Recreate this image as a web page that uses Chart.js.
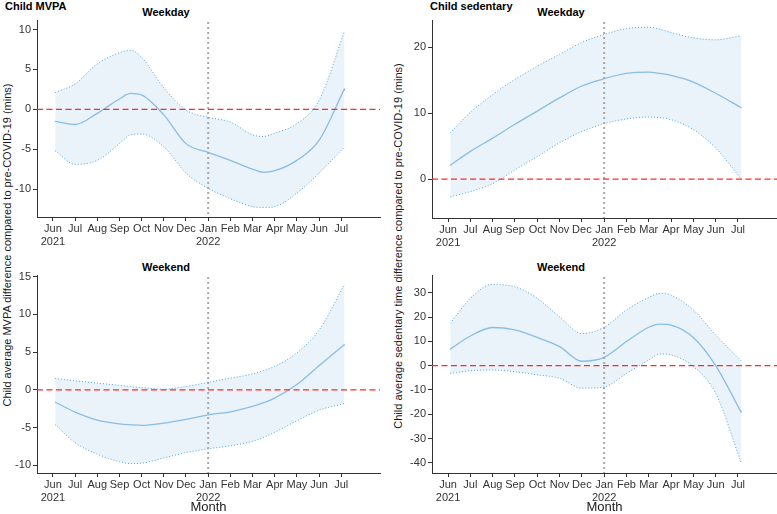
<!DOCTYPE html>
<html>
<head>
<meta charset="utf-8">
<script src="https://cdn.jsdelivr.net/npm/chart.js@4"></script>
<style>
  body { margin: 0; background: #fff; width: 777px; height: 514px; position: relative; overflow: hidden;
         font-family: "Liberation Sans", Arial, sans-serif; }
  .panel { position: absolute; }
  .lbl { position: absolute; white-space: nowrap; color: #000; line-height: 1; }
  .bold { font-weight: bold; font-size: 11px; }
  .sub { transform: translateX(-50%); }
  .ytitle { font-size: 11px; color: #1a1a1a; transform: translate(-50%, -50%) rotate(-90deg); }
</style>
</head>
<body>
<div class="lbl bold" style="left:5px;top:1px">Child MVPA</div>
<div class="lbl bold sub" style="left:166px;top:7px">Weekday</div>
<div class="lbl bold sub" style="left:166px;top:262px">Weekend</div>
<div class="lbl bold" style="left:430px;top:1px">Child sedentary</div>
<div class="lbl bold sub" style="left:561px;top:7px">Weekday</div>
<div class="lbl bold sub" style="left:561px;top:262px">Weekend</div>
<div class="lbl ytitle" style="left:7px;top:245px">Child average MVPA difference compared to pre-COVID-19 (mins)</div>
<div class="lbl ytitle" style="left:398px;top:246px">Child average sedentary time difference compared to pre-COVID-19 (mins)</div>

<div class="panel" style="left:0;top:0;width:390px;height:250px"><canvas id="mvpaWeekday"></canvas></div>
<div class="panel" style="left:395px;top:0;width:382px;height:250px"><canvas id="sedWeekday"></canvas></div>
<div class="panel" style="left:0;top:250px;width:390px;height:264px"><canvas id="mvpaWeekend"></canvas></div>
<div class="panel" style="left:395px;top:250px;width:382px;height:264px"><canvas id="sedWeekend"></canvas></div>

<script>
// --- Data (months since June 2021) ---
const months = [0.1, 1, 2, 3, 3.5, 4, 5, 6, 7, 8, 9, 9.5, 10, 11, 12, 13.15];
const monthTicks = [0, 1, 2, 3, 4, 5, 6, 7, 8, 9, 10, 11, 12, 13];
const monthLabels = ['Jun', 'Jul', 'Aug', 'Sep', 'Oct', 'Nov', 'Dec', 'Jan', 'Feb', 'Mar', 'Apr', 'May', 'Jun', 'Jul'];
const yearLabels = ['2021', '', '', '', '', '', '', '2022', '', '', '', '', '', ''];
const lockdownEnd = 7; // Jan 2022

// Child MVPA, weekday
const mvpaWeekdayMean  = [-1.5, -1.9, -0.5, 1.3, 2.0, 1.8, -0.7, -4.3, -5.4, -6.4, -7.5, -7.9, -7.7, -6.4, -3.9, 2.6];
const mvpaWeekdayUpper = [2.1, 3.2, 5.7, 7.1, 7.4, 6.5, 2.7, -0.1, -1.0, -1.6, -3.2, -3.4, -3.0, -1.8, 1.1, 9.8];
const mvpaWeekdayLower = [-5.2, -6.9, -6.4, -4.3, -3.2, -3.1, -4.7, -8.0, -9.9, -11.2, -12.2, -12.3, -12.2, -10.5, -8.0, -4.7];
const mvpaWeekdayTicks = [-10, -5, 0, 5, 10];

// Child sedentary, weekday
const sedWeekdayMean  = [2.1, 4.2, 6.2, 8.3, 9.3, 10.3, 12.3, 14.1, 15.2, 16.0, 16.2, 16.0, 15.7, 14.7, 13.0, 10.8];
const sedWeekdayUpper = [7.0, 10.1, 12.8, 15.1, 16.1, 17.1, 18.9, 20.7, 21.9, 22.8, 23.0, 22.7, 22.2, 21.4, 21.1, 21.7];
const sedWeekdayLower = [-2.7, -1.9, -0.7, 1.4, 2.4, 3.4, 5.5, 7.2, 8.4, 9.1, 9.4, 9.3, 9.0, 7.5, 4.7, 0.0];
const sedWeekdayTicks = [0, 10, 20];

// Child MVPA, weekend
const mvpaWeekendMean  = [-1.6, -2.95, -4.0, -4.5, -4.62, -4.7, -4.4, -3.9, -3.3, -2.9, -2.2, -1.7, -1.1, 0.7, 3.2, 6.0];
const mvpaWeekendUpper = [1.5, 1.2, 0.9, 0.6, 0.45, 0.3, 0.1, 0.45, 1.0, 1.55, 2.1, 2.55, 3.1, 4.9, 7.9, 14.0];
const mvpaWeekendLower = [-4.6, -7.0, -8.5, -9.5, -9.75, -9.7, -9.0, -8.3, -7.8, -7.4, -6.8, -6.3, -5.6, -4.1, -2.7, -1.8];
const mvpaWeekendTicks = [-10, -5, 0, 5, 10, 15];

// Child sedentary, weekend
const sedWeekendMean  = [6.8, 12.2, 15.7, 14.7, 13.3, 11.6, 7.8, 1.8, 3.4, 9.9, 15.8, 17.1, 16.7, 11.6, 0.0, -19.3];
const sedWeekendUpper = [17.4, 27.7, 33.5, 32.4, 30.5, 27.7, 20.1, 13.2, 15.8, 22.9, 28.1, 29.7, 29.0, 22.9, 12.6, 1.9];
const sedWeekendLower = [-3.2, -2.1, -1.8, -2.5, -3.1, -3.8, -5.2, -9.3, -8.8, -3.2, 2.3, 4.8, 4.4, -0.4, -11.4, -40.1];
const sedWeekendTicks = [-40, -30, -20, -10, 0, 10, 20, 30];

// --- Styling ---
const lineBlue = '#3f93d6';
const bandEdge = '#4fa3e3';
const bandFill = 'rgba(214, 232, 246, 0.5)';
const axisColor = '#333333';
const tickFont = { family: '"Liberation Sans", Arial, sans-serif', size: 11 };

const toPoints = (vals) => vals.map((v, i) => ({ x: months[i], y: v }));

// reference lines: red dashed at zero, grey dotted at Jan 2022
const refLines = {
    id: 'refLines',
    afterDatasetsDraw(chart) {
        const { ctx, chartArea, scales } = chart;
        const x = scales.x.getPixelForValue(lockdownEnd);
        const y0 = scales.y.getPixelForValue(0);
        ctx.save();
        ctx.beginPath();
        ctx.rect(chartArea.left, chartArea.top, chartArea.width, chartArea.height);
        ctx.clip();
        ctx.strokeStyle = '#a8a8a8';
        ctx.lineWidth = 2;
        ctx.setLineDash([2, 3]);
        ctx.beginPath();
        ctx.moveTo(x, chartArea.top + 2);
        ctx.lineTo(x, chartArea.bottom);
        ctx.stroke();
        ctx.strokeStyle = '#ff2a2a';
        ctx.lineWidth = 1.3;
        ctx.setLineDash([6, 3.5]);
        ctx.beginPath();
        ctx.moveTo(chartArea.left, y0);
        ctx.lineTo(chartArea.right, y0);
        ctx.stroke();
        ctx.restore();
    }
};

function makePanel(id, lower, mean, upper, yTicks, yMin, yMax, opts) {
    const ctx = document.getElementById(id).getContext('2d');
    return new Chart(ctx, {
        type: 'line',
        data: {
            datasets: [{
                data: toPoints(lower),
                borderColor: bandEdge,
                borderWidth: 1,
                borderDash: [1, 2],
                fill: false
            }, {
                data: toPoints(upper),
                borderColor: bandEdge,
                borderWidth: 1,
                borderDash: [1, 2],
                backgroundColor: bandFill,
                fill: '-1'
            }, {
                data: toPoints(mean),
                borderColor: lineBlue,
                borderWidth: 1.3,
                fill: false
            }]
        },
        options: {
            responsive: true,
            maintainAspectRatio: false,
            animation: false,
            elements: { point: { radius: 0 }, line: { cubicInterpolationMode: 'monotone' } },
            layout: { padding: { left: 0, right: opts.padRight, top: opts.padTop, bottom: 0 } },
            plugins: { legend: { display: false }, tooltip: { enabled: false } },
            scales: {
                x: {
                    type: 'linear',
                    min: -0.72,
                    max: 14.75,
                    afterFit: (s) => { s.height = opts.xHeight; },
                    afterBuildTicks: (s) => { s.ticks = monthTicks.map(v => ({ value: v })); },
                    border: { display: true, color: axisColor, width: 1 },
                    grid: { drawOnChartArea: false, drawTicks: true, tickLength: 4, color: axisColor },
                    ticks: {
                        color: '#333',
                        font: tickFont,
                        padding: 1,
                        maxRotation: 0,
                        autoSkip: false,
                        callback: (v) => {
                            const i = monthTicks.indexOf(v);
                            return yearLabels[i] ? [monthLabels[i], yearLabels[i]] : monthLabels[i];
                        }
                    },
                    title: {
                        display: opts.showMonth,
                        text: 'Month',
                        color: '#1a1a1a',
                        font: { family: tickFont.family, size: 13, lineHeight: 1 },
                        padding: { top: 0, bottom: 0 }
                    }
                },
                y: {
                    min: yMin,
                    max: yMax,
                    afterFit: (s) => { s.width = opts.yWidth; },
                    afterBuildTicks: (s) => { s.ticks = yTicks.map(v => ({ value: v })); },
                    border: { display: true, color: axisColor, width: 1 },
                    grid: { drawOnChartArea: false, drawTicks: true, tickLength: 4, color: axisColor },
                    ticks: { color: '#333', font: tickFont, padding: 2 }
                }
            }
        },
        plugins: [refLines]
    });
}

makePanel('mvpaWeekday', mvpaWeekdayLower, mvpaWeekdayMean, mvpaWeekdayUpper, mvpaWeekdayTicks, -13.5, 11.2,
    { padTop: 20, padRight: 10, xHeight: 33, yWidth: 37, showMonth: false });
makePanel('sedWeekday', sedWeekdayLower, sedWeekdayMean, sedWeekdayUpper, sedWeekdayTicks, -5.9, 24.1,
    { padTop: 20, padRight: 0, xHeight: 32, yWidth: 37, showMonth: false });
makePanel('mvpaWeekend', mvpaWeekendLower, mvpaWeekendMean, mvpaWeekendUpper, mvpaWeekendTicks, -11.0, 15.2,
    { padTop: 25, padRight: 10, xHeight: 41, yWidth: 37, showMonth: true });
makePanel('sedWeekend', sedWeekendLower, sedWeekendMean, sedWeekendUpper, sedWeekendTicks, -44.2, 37.3,
    { padTop: 25, padRight: 0, xHeight: 41, yWidth: 37, showMonth: true });
</script>
</body>
</html>
